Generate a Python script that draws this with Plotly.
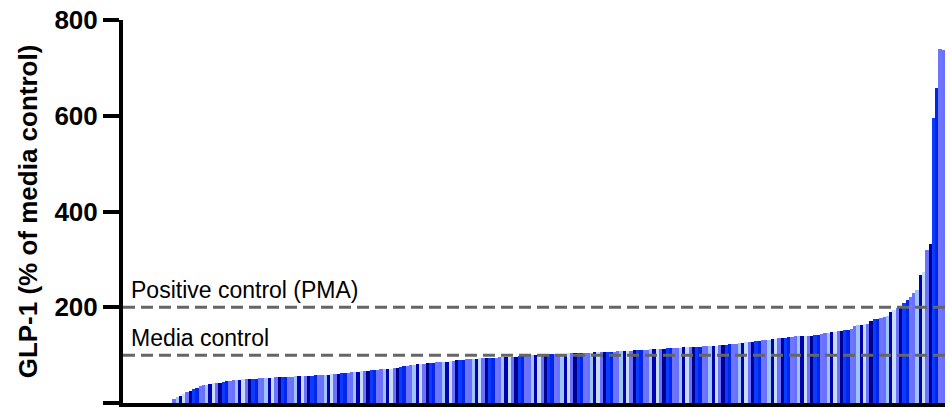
import plotly.graph_objects as go

# GLP-1 secretion (% of media control), sorted ascending, one bar per sample
glp1_values = [
    0, 0, 0, 0, 0, 0, 0, 0, 0, 0, 0, 0, 0, 0, 0,
    8, 12, 15, 19, 22, 25, 29, 32, 35, 37, 38, 40, 41, 41, 42, 44, 45, 47, 49, 49, 49,
    50, 50, 51, 51, 51, 52, 52, 52, 53, 53, 54, 54, 54, 55, 55, 55, 56, 56, 56, 57, 57, 57, 58, 58, 58,
    59, 59, 60, 60, 61, 62, 62, 63, 64, 64, 65, 66, 66, 67, 68, 69, 69, 70, 71, 72, 72, 73, 74, 75,
    77, 78, 79, 80, 81, 81, 82, 83, 84, 84, 85, 85, 86, 86, 87, 88, 89, 90, 90, 91, 91, 92, 92, 93, 93, 94, 94, 95, 95, 96, 96,
    96, 97, 97, 97, 98, 98, 99, 99, 100, 100, 101, 101, 101, 102, 102, 102, 103, 103, 103, 104, 104, 104, 104, 105, 105, 105, 105, 106, 106, 106,
    106, 107, 107, 107, 108, 108, 108, 109, 109, 110, 110, 110, 111, 111, 112, 112, 112, 113, 113, 114, 114, 115, 115, 115, 116, 116, 117, 117, 118, 118, 119,
    119, 120, 120, 120, 121, 121, 122, 123, 124, 124, 125, 126, 127, 127, 128, 129, 130, 131, 131, 132, 133, 134, 135, 135, 136, 137, 138, 139, 140, 140,
    140, 141, 141, 142, 143, 145, 146, 147, 148, 149, 150, 151, 152, 153,
    154, 161, 163, 163, 164, 166, 171, 175, 176, 177, 179, 182, 190, 194, 198, 202, 208, 215, 222, 229, 235, 267, 274, 319, 333, 596, 659, 740, 737,
]
sample_index = list(range(len(glp1_values)))

y_ticks = [0, 200, 400, 600, 800]
media_control = 100
positive_control = 200

palette = ["#C7DDF8", "#6B70FF", "#000090", "#0A3CFF", "#0026EE", "#7075FF", "#6B70FF", "#9CC6F5", "#0000B0"]
bar_colors = [palette[i % len(palette)] for i in sample_index]

font_family = "Arial, Liberation Sans, sans-serif"

fig = go.Figure()
fig.add_trace(go.Bar(
    x=sample_index,
    y=glp1_values,
    marker=dict(color=bar_colors, line=dict(width=0)),
    hoverinfo="y",
))

for yv in (media_control, positive_control):
    fig.add_shape(type="line", xref="paper", x0=0, x1=1, yref="y", y0=yv, y1=yv,
                  line=dict(color="#666666", width=3, dash="12px,6px"), layer="above")

fig.add_annotation(xref="paper", x=0, xanchor="left", xshift=6,
                   yref="y", y=positive_control, yanchor="bottom", yshift=2,
                   text="Positive control (PMA)", showarrow=False,
                   font=dict(family=font_family, size=23, color="#000000"))
fig.add_annotation(xref="paper", x=0, xanchor="left", xshift=6,
                   yref="y", y=media_control, yanchor="bottom", yshift=2,
                   text="Media control", showarrow=False,
                   font=dict(family=font_family, size=23, color="#000000"))

fig.update_layout(
    width=950, height=412,
    margin=dict(l=123, r=5, t=20, b=9),
    paper_bgcolor="white", plot_bgcolor="white",
    bargap=0,
    showlegend=False,
    font=dict(family=font_family, color="#000000"),
    xaxis=dict(
        range=[-0.5, len(glp1_values) - 0.5],
        showline=True, linecolor="#000000", linewidth=4,
        showticklabels=False, ticks="", showgrid=False, zeroline=False,
    ),
    yaxis=dict(
        range=[0, 800],
        tickvals=y_ticks,
        showline=True, linecolor="#000000", linewidth=4,
        ticks="outside", ticklen=16, tickwidth=4, tickcolor="#000000",
        tickfont=dict(family=font_family, size=26, color="#000000", weight="bold"),
        showgrid=False, zeroline=False,
        title=dict(text="GLP-1 (% of media control)", standoff=10,
                   font=dict(family=font_family, size=26, color="#000000", weight="bold")),
    ),
)

fig.write_html("out.html", config={"displayModeBar": False},
               post_script="document.body.style.margin='0';")
